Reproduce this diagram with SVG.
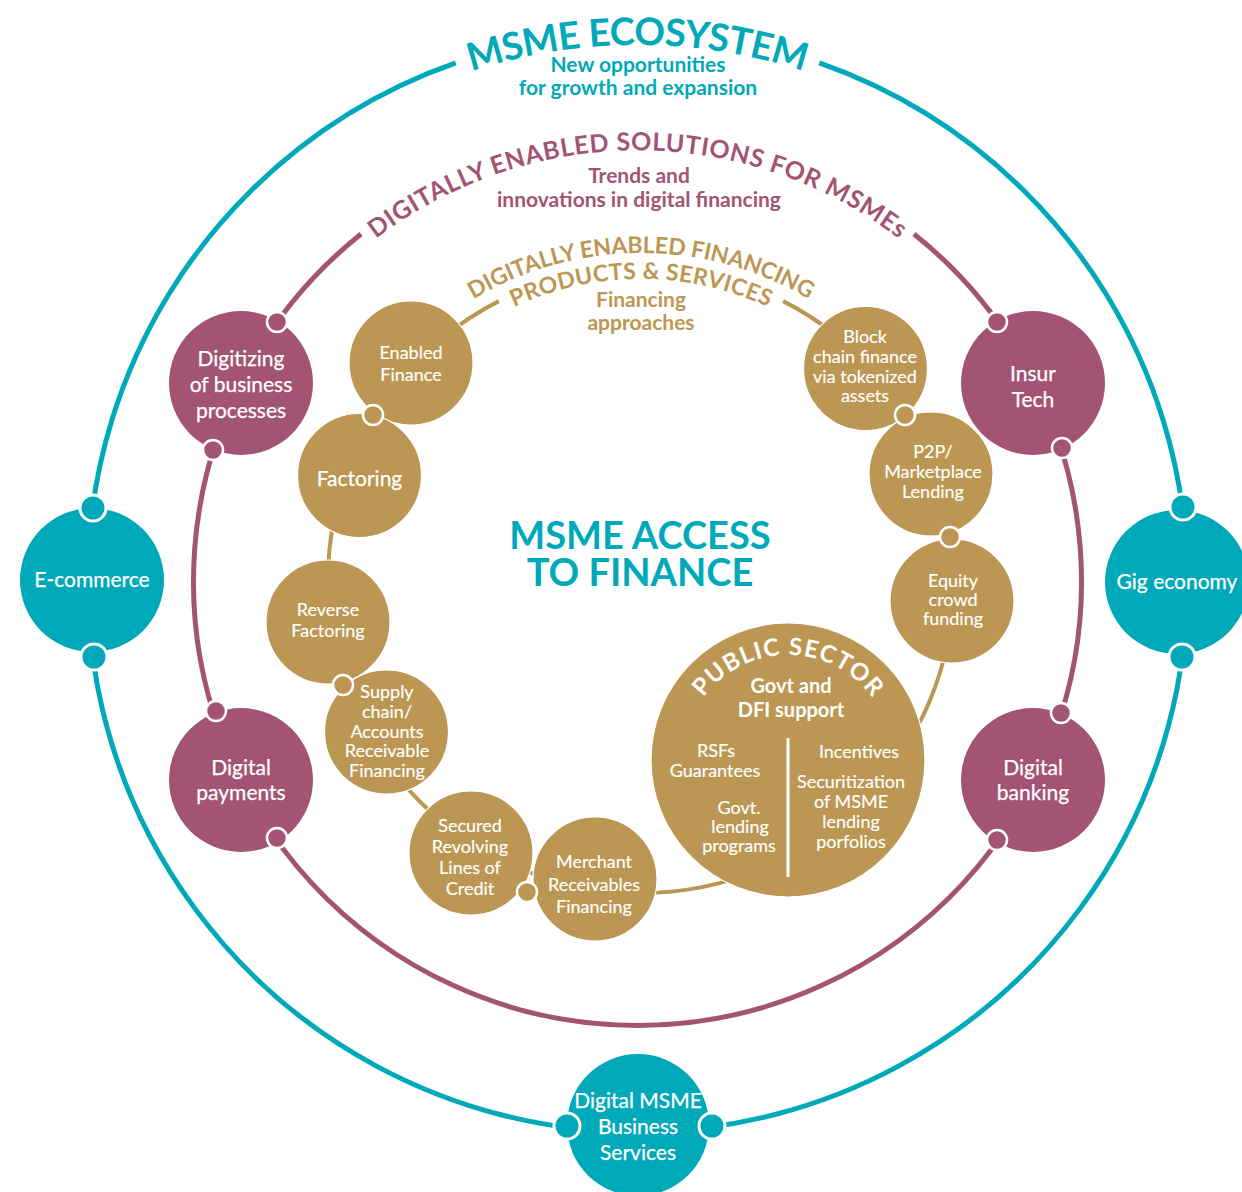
<svg xmlns="http://www.w3.org/2000/svg" width="1242" height="1192" viewBox="0 0 1242 1192">
<style>
.bg{fill:#ffffff}
.ring{fill:none;stroke-width:5}
.rt{stroke:#00A9B9}.rp{stroke:#A35473}.rg{stroke:#BC9753;stroke-width:4}
.ft{fill:#00A9B9}.fp{fill:#A35473}.fg{fill:#BC9753}
.gnode{fill:#BC9753;stroke:#ffffff;stroke-width:1.2}
.dot{stroke:#ffffff;stroke-width:3}
.dots{stroke:#ffffff;stroke-width:2.5}
text{font-family:Lato,"Liberation Sans",sans-serif}
.nt{fill:#ffffff;stroke:#ffffff;stroke-width:0.25;font-size:21px;text-anchor:middle}
.gt{fill:#ffffff;stroke:#ffffff;stroke-width:0.15;font-size:18px;text-anchor:middle}
.bt{fill:#ffffff;font-size:20px;font-weight:bold;text-anchor:middle}
.title{font-weight:bold}
.sub{font-size:21px;font-weight:bold;text-anchor:middle}
</style>
<defs>
<path id="pTeal" d="M292.3,170.6 A537,537 0 0,1 982.7,170.6"/>
<path id="pPurple" d="M264.2,366 A431,431 0 0,1 1010.8,366"/>
<path id="pGold1" d="M357.8,416.5 A327,327 0 0,1 924.2,416.5"/>
<path id="pGold2" d="M380.3,429.5 A301,301 0 0,1 901.7,429.5"/>
<path id="pPublic" d="M689.3,724.1 A105,105 0 0,1 886.7,724.1"/>
</defs>
<rect class="bg" x="0" y="0" width="1242" height="1192"/>

<g id="connectors">
<path class="ring rt" d="M819.3,62.9 A550,550 0 1,1 455.7,62.9"/>
<path class="ring rp" d="M913.9,234 A444,444 0 1,1 361.1,234"/>
<path class="ring rg" d="M783.1,301.1 A313,313 0 1,1 498.9,301.1"/>
</g>

<g id="titles">
<text class="title ft" font-size="38"><textPath href="#pTeal" startOffset="50%" text-anchor="middle" textLength="338" lengthAdjust="spacing">MSME ECOSYSTEM</textPath></text>
<text class="sub ft" x="638" y="72">New opportunities</text>
<text class="sub ft" x="638" y="95">for growth and expansion</text>
<text class="title fp" font-size="25"><textPath href="#pPurple" startOffset="50%" text-anchor="middle" textLength="562" lengthAdjust="spacing">DIGITALLY ENABLED SOLUTIONS FOR MSMEs</textPath></text>
<text class="sub fp" x="639" y="183">Trends and</text>
<text class="sub fp" x="639" y="207">innovations in digital financing</text>
<text class="title fg" font-size="23"><textPath href="#pGold1" startOffset="50%" text-anchor="middle" textLength="352" lengthAdjust="spacing">DIGITALLY ENABLED FINANCING</textPath></text>
<text class="title fg" font-size="23"><textPath href="#pGold2" startOffset="50%" text-anchor="middle" textLength="262" lengthAdjust="spacing">PRODUCTS &amp; SERVICES</textPath></text>
<text class="sub fg" x="641" y="307">Financing</text>
<text class="sub fg" x="641" y="330">approaches</text>
<text class="title ft" font-size="38" text-anchor="middle" x="640" y="549">MSME ACCESS</text>
<text class="title ft" font-size="38" text-anchor="middle" x="640" y="586">TO FINANCE</text>
</g>

<g id="node-ecommerce">
<circle class="ft" cx="92" cy="580" r="72"/>
<circle class="ft dot" cx="93" cy="508" r="13"/>
<circle class="ft dot" cx="94" cy="657" r="13"/>
<text class="nt" x="92" y="587">E-commerce</text>
</g>
<g id="node-gig">
<circle class="ft" cx="1177" cy="582" r="72"/>
<circle class="ft dot" cx="1183" cy="507" r="13"/>
<circle class="ft dot" cx="1182" cy="657" r="13"/>
<text class="nt" x="1177" y="589">Gig economy</text>
</g>
<g id="node-msme-services">
<circle class="ft" cx="638" cy="1125" r="71"/>
<circle class="ft dot" cx="567" cy="1126" r="13"/>
<circle class="ft dot" cx="712" cy="1126" r="13"/>
<text class="nt" x="638" y="1108">Digital MSME</text>
<text class="nt" x="638" y="1134">Business</text>
<text class="nt" x="638" y="1160">Services</text>
</g>

<g id="node-digitizing">
<circle class="fp" cx="241" cy="383" r="72"/>
<circle class="fp dots" cx="277" cy="322" r="10"/>
<circle class="fp dots" cx="213" cy="450" r="10"/>
<text class="nt" x="241" y="366">Digitizing</text>
<text class="nt" x="241" y="392">of business</text>
<text class="nt" x="241" y="418">processes</text>
</g>
<g id="node-insurtech">
<circle class="fp" cx="1033" cy="383" r="72"/>
<circle class="fp dots" cx="997" cy="322" r="10"/>
<circle class="fp dots" cx="1062" cy="448" r="10"/>
<text class="nt" x="1033" y="381">Insur</text>
<text class="nt" x="1033" y="407">Tech</text>
</g>
<g id="node-payments">
<circle class="fp" cx="241" cy="780" r="72"/>
<circle class="fp dots" cx="216" cy="711" r="10"/>
<circle class="fp dots" cx="277" cy="838" r="10"/>
<text class="nt" x="241" y="775">Digital</text>
<text class="nt" x="241" y="800">payments</text>
</g>
<g id="node-banking">
<circle class="fp" cx="1033" cy="780" r="72"/>
<circle class="fp dots" cx="1061" cy="713" r="10"/>
<circle class="fp dots" cx="997" cy="840" r="10"/>
<text class="nt" x="1033" y="775">Digital</text>
<text class="nt" x="1033" y="800">banking</text>
</g>

<g id="node-enabled-finance">
<circle class="gnode" cx="411" cy="363" r="62"/>
<text class="gt" x="411" y="359">Enabled</text>
<text class="gt" x="411" y="381">Finance</text>
</g>
<g id="node-factoring">
<circle class="gnode" cx="359.5" cy="475.5" r="62"/>
<text class="nt" x="359.5" y="486">Factoring</text>
</g>
<g id="node-reverse-factoring">
<circle class="gnode" cx="328" cy="622" r="62"/>
<text class="gt" x="328" y="616">Reverse</text>
<text class="gt" x="328" y="637">Factoring</text>
</g>
<g id="node-supply-chain">
<circle class="gnode" cx="386.5" cy="732" r="62"/>
<text class="gt" x="387" y="698">Supply</text>
<text class="gt" x="387" y="718">chain/</text>
<text class="gt" x="387" y="738">Accounts</text>
<text class="gt" x="387" y="757">Receivable</text>
<text class="gt" x="387" y="777">Financing</text>
</g>
<g id="node-secured">
<circle class="gnode" cx="471" cy="853" r="62"/>
<text class="gt" x="470" y="832">Secured</text>
<text class="gt" x="470" y="853">Revolving</text>
<text class="gt" x="470" y="874">Lines of</text>
<text class="gt" x="470" y="895">Credit</text>
</g>
<g id="node-merchant">
<circle class="gnode" cx="595" cy="879" r="62"/>
<text class="gt" x="594" y="868">Merchant</text>
<text class="gt" x="594" y="891">Receivables</text>
<text class="gt" x="594" y="913">Financing</text>
</g>
<g id="node-public-sector">
<circle class="gnode" cx="788" cy="760" r="137"/>
<text class="title" fill="#ffffff" font-size="24"><textPath href="#pPublic" startOffset="50%" text-anchor="middle" textLength="196" lengthAdjust="spacing">PUBLIC SECTOR</textPath></text>
<text class="bt" x="791" y="693">Govt and</text>
<text class="bt" x="791" y="717">DFI support</text>
<line x1="788" y1="738" x2="788" y2="877" stroke="#ffffff" stroke-width="3"/>
<text class="gt" x="716" y="757">RSFs</text>
<text class="gt" x="715" y="777">Guarantees</text>
<text class="gt" x="739" y="814">Govt.</text>
<text class="gt" x="740" y="833">lending</text>
<text class="gt" x="739" y="852">programs</text>
<text class="gt" x="859" y="758">Incentives</text>
<text class="gt" x="851" y="788">Securitization</text>
<text class="gt" x="851" y="808">of MSME</text>
<text class="gt" x="851" y="828">lending</text>
<text class="gt" x="851" y="848">porfolios</text>
</g>
<g id="node-equity">
<circle class="gnode" cx="952" cy="601" r="62"/>
<text class="gt" x="953" y="587">Equity</text>
<text class="gt" x="953" y="606">crowd</text>
<text class="gt" x="953" y="625">funding</text>
</g>
<g id="node-block-chain">
<circle class="gnode" cx="865.5" cy="368.5" r="62"/>
<text class="gt" x="865" y="343">Block</text>
<text class="gt" x="865" y="363">chain finance</text>
<text class="gt" x="865" y="383">via tokenized</text>
<text class="gt" x="865" y="402">assets</text>
</g>
<g id="node-p2p">
<circle class="gnode" cx="931" cy="474" r="62"/>
<text class="gt" x="933" y="458">P2P/</text>
<text class="gt" x="933" y="478">Marketplace</text>
<text class="gt" x="933" y="498">Lending</text>
</g>
<g id="gold-dots">
<circle class="fg dots" cx="373" cy="415" r="10"/>
<circle class="fg dots" cx="905" cy="415" r="10"/>
<circle class="fg dots" cx="950" cy="537" r="10"/>
<circle class="fg dots" cx="343" cy="685" r="10"/>
<circle class="fg dots" cx="527" cy="892" r="10"/>
</g>
</svg>
